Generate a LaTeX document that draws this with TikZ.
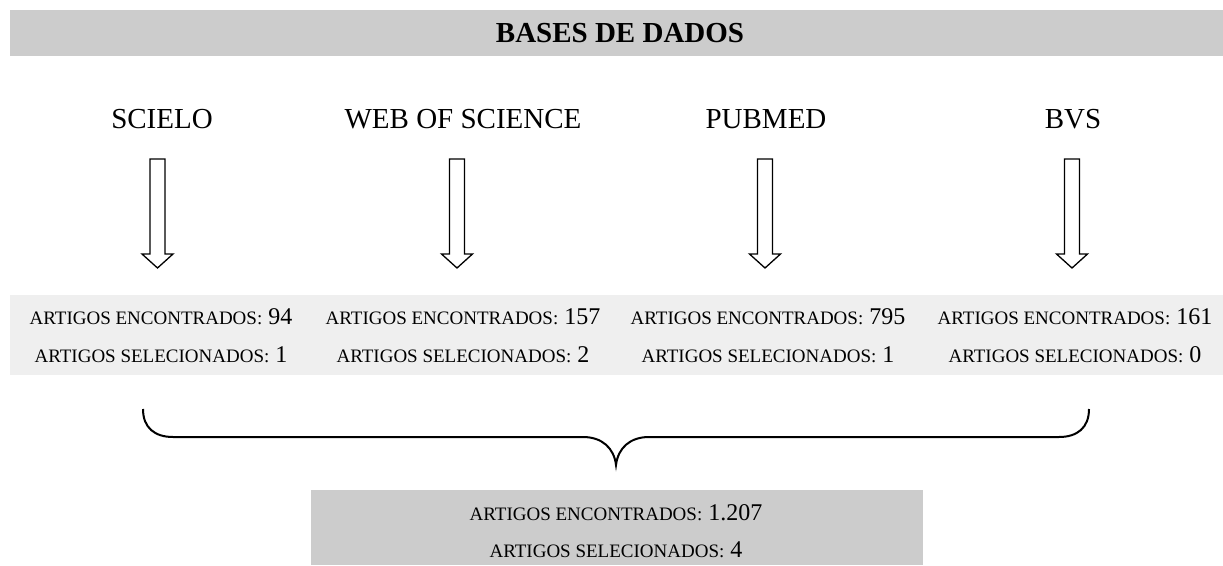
\documentclass[tikz,border=0pt]{standalone}
\usepackage{fontspec}
\setmainfont{Liberation Serif}
\definecolor{bargray}{HTML}{CCCCCC}
\definecolor{bandgray}{HTML}{EFEFEF}
\newcommand{\sct}[1]{{\fontsize{19}{19}\selectfont #1}}
\tikzset{
  coltitle/.style={anchor=base, inner sep=0pt, font=\fontsize{29}{29}\selectfont},
  cnt/.style={anchor=base, inner sep=0pt, font=\fontsize{24}{24}\selectfont},
  blockarrow/.style={draw=black, line width=1.3pt, fill=white, line join=miter},
  bracestyle/.style={draw=black, line width=2pt},
}
\begin{document}
\begin{tikzpicture}[x=1pt, y=-1pt]
\useasboundingbox (0,0) rectangle (1223,565);
\fill[bargray] (10,10) rectangle (1223,56);
\node[inner sep=0pt, font=\bfseries\fontsize{29}{29}\selectfont] (title) at (620,33) {BASES DE DADOS};
\fill[bandgray] (10,295) rectangle (1223,375);
% column titles
\node[coltitle] (t1) at (162,128) {SCIELO};
\node[coltitle] (t2) at (463,128) {WEB OF SCIENCE};
\node[coltitle] (t3) at (766,128) {PUBMED};
\node[coltitle] (t4) at (1073,128) {BVS};
% block arrows
\foreach \ax in {157.5,457,765,1072}{
  \draw[blockarrow] (\ax-7.5,159) -- (\ax+7.5,159) -- (\ax+7.5,254) -- (\ax+15.5,254)
     -- (\ax,268) -- (\ax-15.5,254) -- (\ax-7.5,254) -- cycle;
}
% counts
\node[cnt] (e1) at (161,324) {\sct{ARTIGOS ENCONTRADOS:} 94};
\node[cnt] (s1) at (161,362) {\sct{ARTIGOS SELECIONADOS:} 1};
\node[cnt] (e2) at (463,324) {\sct{ARTIGOS ENCONTRADOS:} 157};
\node[cnt] (s2) at (463,362) {\sct{ARTIGOS SELECIONADOS:} 2};
\node[cnt] (e3) at (768,324) {\sct{ARTIGOS ENCONTRADOS:} 795};
\node[cnt] (s3) at (768,362) {\sct{ARTIGOS SELECIONADOS:} 1};
\node[cnt] (e4) at (1075,324) {\sct{ARTIGOS ENCONTRADOS:} 161};
\node[cnt] (s4) at (1075,362) {\sct{ARTIGOS SELECIONADOS:} 0};
% brace
\coordinate (bl) at (143,409);
\coordinate (bm) at (616,465);
\coordinate (br) at (1089,409);
\draw[bracestyle] (bl) .. controls (143,428) and (155,437) .. (173,437) -- (583,437)
   .. controls (602,437) and (614,448) .. (bm)
   .. controls (618,448) and (630,437) .. (649,437) -- (1059,437)
   .. controls (1077,437) and (1089,428) .. (br);
% total box
\fill[bargray] (311,490) rectangle (923,565);
\node[cnt] (et) at (616,520) {\sct{ARTIGOS ENCONTRADOS:} 1.207};
\node[cnt] (st) at (616,557) {\sct{ARTIGOS SELECIONADOS:} 4};
\end{tikzpicture}
\end{document}
